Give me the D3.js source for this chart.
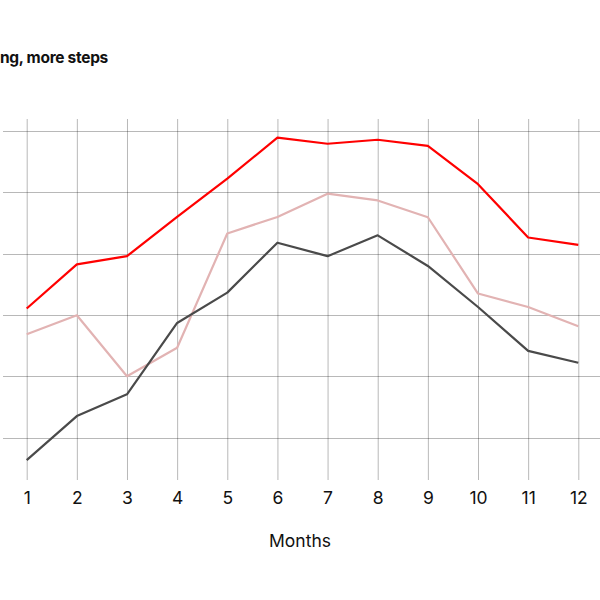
<!DOCTYPE html>
<html>
<head>
<meta charset="utf-8">
<script src="https://cdn.jsdelivr.net/npm/d3@7"></script>
<style>
  html, body { margin: 0; padding: 0; background: #fff; overflow: hidden; }
  svg { display: block; font-family: Inter, "Helvetica Neue", Arial, sans-serif; }
</style>
</head>
<body>
<svg id="chart" width="600" height="600"></svg>
<script>
// Data (thousand steps)
const months = [1, 2, 3, 4, 5, 6, 7, 8, 9, 10, 11, 12];
const seriesRed  = [6.21, 7.65, 7.92, 9.20, 10.45, 11.79, 11.59, 11.72, 11.52, 10.27, 8.53, 8.29];
const seriesPink = [5.37, 5.99, 4.00, 4.93, 8.66, 9.20, 9.96, 9.74, 9.19, 6.70, 6.26, 5.63];
const seriesDark = [1.26, 2.70, 3.41, 5.74, 6.73, 8.36, 7.92, 8.60, 7.60, 6.26, 4.83, 4.44];
const yTicks = [2, 4, 6, 8, 10, 12];
const titleText = "More walking, more steps";
const xTitle = "Months";

const svg = d3.select("#chart");
const vTop = 119, vBottom = 480;
const gridLeft = 3, gridRight = 600;

const x = d3.scaleLinear().domain([1, 12]).range([26.7, 578.3]);
const y = d3.scaleLinear().domain([2, 12]).range([437.5, 131.2]);

// Title (cropped on the left as in the reference)
svg.append("text")
  .attr("x", 108).attr("y", 63)
  .attr("text-anchor", "end")
  .attr("font-size", 15.5)
  .attr("font-weight", 700)
  .attr("letter-spacing", "-0.3")
  .attr("fill", "#111")
  .text(titleText);

// Horizontal gridlines
svg.append("g")
  .selectAll("line")
  .data(yTicks)
  .join("line")
  .attr("x1", gridLeft).attr("x2", gridRight)
  .attr("y1", d => Math.round(y(d)) + 0.5).attr("y2", d => Math.round(y(d)) + 0.5)
  .attr("stroke", "#000").attr("stroke-opacity", 0.28).attr("stroke-width", 1);

// Vertical gridlines via x axis
const xAxis = d3.axisBottom(x)
  .tickValues(months)
  .tickSize(-(vBottom - vTop))
  .tickPadding(11.5)
  .tickFormat(d3.format("d"));

const gx = svg.append("g")
  .attr("transform", `translate(0,${vBottom})`)
  .call(xAxis);
gx.select(".domain").remove();
gx.selectAll(".tick line")
  .attr("stroke", "#000").attr("stroke-opacity", 0.28);
gx.selectAll(".tick text")
  .attr("font-size", 17.5)
  .attr("fill", "#111")
  .attr("font-family", "Inter, 'Helvetica Neue', Arial, sans-serif");

// X axis title
svg.append("text")
  .attr("x", 300).attr("y", 547)
  .attr("text-anchor", "middle")
  .attr("font-size", 17.5)
  .attr("fill", "#111")
  .text(xTitle);

// Lines
const line = d3.line()
  .x((d, i) => x(months[i]))
  .y(d => y(d));

const series = [
  { values: seriesPink, color: "#e2b3b3" },
  { values: seriesDark, color: "#4a4a4a" },
  { values: seriesRed,  color: "#ff0000" }
];

svg.append("g")
  .selectAll("path")
  .data(series)
  .join("path")
  .attr("d", d => line(d.values))
  .attr("fill", "none")
  .attr("stroke", d => d.color)
  .attr("stroke-width", 2.2)
  .attr("stroke-linejoin", "round");
</script>
</body>
</html>
